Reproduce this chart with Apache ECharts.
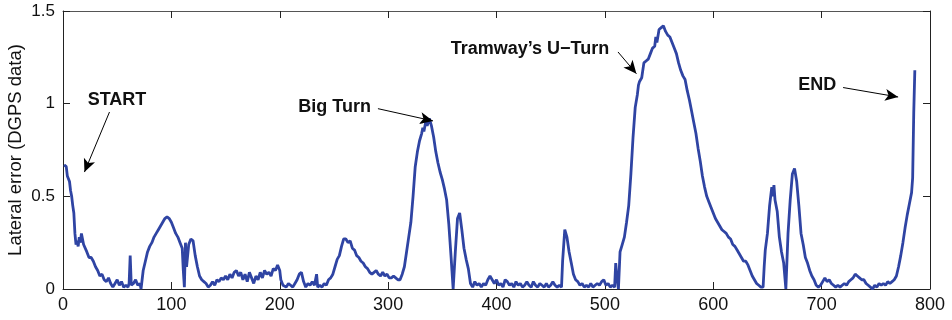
<!DOCTYPE html>
<html>
<head>
<meta charset="utf-8">
<script src="https://cdn.jsdelivr.net/npm/echarts@6/dist/echarts.min.js"></script>
<style>html,body{margin:0;padding:0;background:#fff}#c{width:952px;height:320px}</style>
</head>
<body>
<div id="c"></div>
<script>
const xTicks = [0, 100, 200, 300, 400, 500, 600, 700, 800];
const yTicks = [0, 0.5, 1, 1.5];
const yName = 'Lateral error (DGPS data)';

const sampleX = [1,2,3,4,5,6,7,8,9,10,11,12,13,14,15,16,17,18,19,20,22,24,26,28,30,32,34,36,38,40,42,44,46,48,50,52,54,56,58,60,61,62,63,65,67,69,71,72,74,76,78,80,82,84,86,88,90,92,94,96,98,100,102,104,106,108,110,111,112,113,114,116,118,120,122,124,126,128,130,132,134,136,138,140,142,144,146,148,150,152,154,156,158,160,162,164,166,168,170,172,174,176,178,180,182,184,186,188,190,192,194,196,198,200,201,203,206,208,210,212,214,216,218,220,222,224,226,228,230,232,234,235,237,239,241,243,245,247,249,251,253,255,257,259,261,263,265,267,269,271,273,275,277,279,281,283,285,287,289,291,293,295,297,299,301,303,305,307,309,311,313,315,317,319,321,323,325,327,329,331,332,333,335,336,338,340,342,344,346,348,350,352,354,356,358,360,362,364,366,368,370,372,374,376,378,380,382,384,386,388,390,392,394,396,398,400,402,404,406,408,410,412,414,416,418,420,422,424,426,428,430,432,434,436,438,440,442,444,446,448,450,452,454,456,458,460,461,463,465,467,469,471,473,475,477,479,481,483,485,487,489,491,493,495,497,499,501,503,505,507,509,510,511,512.5,514,516,518,520,522,524,526,528,530,531,532,534,536,538,540,542,544,546,547,548,550,552,554,556,558,560,562,564,566,568,570,572,574,576,578,580,582,584,586,588,590,592,594,596,598,600,602,604,606,608,610,612,614,616,618,620,622,624,626,628,630,632,634,636,638,640,642,644,646,647,648,650,652,654,655,656,657,659,661,663,665,667,669,671,673,675,677,679,681,683,685,687,689,691,693,695,697,699,701,703,705,707,709,711,713,715,717,719,721,723,725,727,729,731,733,735,737,739,741,743,745,747,749,751,753,755,757,759,761,763,765,767,769,771,773,775,777,779,781,783,784,785,786];
const lateralError = [0.67,0.67,0.66,0.61,0.60,0.58,0.53,0.50,0.45,0.41,0.30,0.24,0.26,0.23,0.28,0.25,0.30,0.27,0.24,0.25,0.20,0.17,0.17,0.15,0.12,0.10,0.07,0.08,0.05,0.04,0.06,0.03,0.01,0.03,0.05,0.02,0.04,0.01,0.02,0.01,0.03,0.18,0.02,0.03,0.05,0.02,0.03,0.0,0.10,0.15,0.20,0.23,0.25,0.28,0.30,0.32,0.34,0.36,0.38,0.39,0.38,0.36,0.33,0.30,0.28,0.25,0.22,0.10,0.01,0.25,0.12,0.24,0.27,0.26,0.18,0.12,0.07,0.05,0.04,0.03,0.01,0.02,0.04,0.02,0.05,0.04,0.06,0.05,0.07,0.05,0.08,0.06,0.09,0.10,0.07,0.09,0.05,0.08,0.04,0.09,0.06,0.03,0.07,0.05,0.09,0.06,0.10,0.08,0.09,0.07,0.11,0.10,0.13,0.10,0.05,0.02,0.01,0.03,0.02,0.01,0.03,0.05,0.08,0.09,0.04,0.01,0.03,0.02,0.04,0.02,0.08,0.01,0.02,0.01,0.03,0.02,0.05,0.06,0.08,0.12,0.16,0.18,0.23,0.27,0.27,0.25,0.26,0.22,0.21,0.18,0.17,0.15,0.14,0.12,0.11,0.09,0.08,0.09,0.10,0.08,0.07,0.09,0.07,0.08,0.06,0.06,0.07,0.06,0.05,0.05,0.08,0.12,0.20,0.28,0.36,0.50,0.66,0.74,0.80,0.84,0.87,0.85,0.91,0.88,0.92,0.88,0.82,0.74,0.68,0.63,0.59,0.54,0.48,0.35,0.18,0.0,0.20,0.38,0.41,0.32,0.22,0.16,0.11,0.03,0.01,0.04,0.02,0.03,0.01,0.03,0.02,0.05,0.07,0.05,0.03,0.05,0.02,0.03,0.01,0.05,0.04,0.02,0.03,0.01,0.04,0.02,0.03,0.01,0.02,0.04,0.02,0.01,0.04,0.02,0.01,0.03,0.02,0.01,0.03,0.01,0.02,0.04,0.02,0.01,0.02,0.01,0.15,0.32,0.28,0.20,0.14,0.08,0.05,0.04,0.02,0.03,0.01,0.02,0.01,0.03,0.01,0.02,0.03,0.02,0.04,0.05,0.02,0.03,0.01,0.02,0.01,0.14,0.07,0.0,0.20,0.24,0.28,0.36,0.45,0.62,0.82,0.98,1.05,1.10,1.12,1.14,1.22,1.23,1.24,1.27,1.30,1.31,1.36,1.33,1.40,1.41,1.42,1.39,1.37,1.36,1.33,1.30,1.27,1.22,1.18,1.15,1.13,1.07,1.02,0.96,0.90,0.84,0.76,0.69,0.61,0.55,0.50,0.47,0.44,0.41,0.38,0.36,0.34,0.32,0.31,0.30,0.28,0.27,0.24,0.23,0.21,0.19,0.17,0.15,0.15,0.13,0.10,0.07,0.05,0.03,0.02,0.01,0.01,0.12,0.21,0.30,0.45,0.55,0.50,0.56,0.48,0.42,0.28,0.20,0.14,0.0,0.30,0.48,0.62,0.65,0.58,0.45,0.30,0.24,0.17,0.14,0.10,0.07,0.05,0.02,0.01,0.02,0.04,0.06,0.04,0.05,0.03,0.02,0.01,0.02,0.01,0.02,0.03,0.02,0.04,0.05,0.06,0.08,0.07,0.06,0.05,0.05,0.03,0.02,0.01,0.0,0.02,0.01,0.03,0.02,0.03,0.02,0.04,0.03,0.04,0.05,0.07,0.12,0.18,0.25,0.33,0.40,0.46,0.52,0.60,0.95,1.18];

const annoText = ['START', 'Big Turn', 'Tramway\u2019s U\u2212Turn', 'END'];
const annoTextPos = [[49.8, 1.018], [250.6, 0.982], [430.9, 1.297], [696, 1.099]];
const arrowFrom = [[42.9, 0.955], [290.6, 0.973], [512.1, 1.279], [719.8, 1.087]];
const arrowTo = [[19.8, 0.631], [341.4, 0.907], [529.1, 1.162], [770.6, 1.036]];

const FONT = '"Liberation Sans", Arial, Helvetica, sans-serif';
const chart = echarts.init(document.getElementById('c'), null, {renderer: 'canvas'});

const lineData = sampleX.map((x, i) => [x, lateralError[i]]);
const axisLineStyle = {color: '#222', width: 1};

const baseX = {
  type: 'value', min: xTicks[0], max: xTicks[xTicks.length - 1], interval: 100,
  splitLine: {show: false},
  axisLine: {show: true, onZero: false, lineStyle: axisLineStyle},
  axisTick: {show: true, inside: true, length: 7, lineStyle: {color: '#222'}}
};
const baseY = {
  type: 'value', min: yTicks[0], max: yTicks[yTicks.length - 1], interval: 0.5,
  splitLine: {show: false},
  axisLine: {show: true, onZero: false, lineStyle: axisLineStyle},
  axisTick: {show: true, inside: true, length: 7, lineStyle: {color: '#222'}}
};

chart.setOption({
  animation: false,
  backgroundColor: '#fff',
  grid: {left: 63, right: 22, top: 11, bottom: 31, containLabel: false, outerBoundsMode: 'none'},
  xAxis: [
    Object.assign({}, baseX, {position: 'bottom',
      axisLabel: {show: true, color: '#111', fontSize: 18, fontFamily: FONT, margin: 7}}),
    Object.assign({}, baseX, {position: 'top', axisLine: {show: true, onZero: false, lineStyle: {color: '#555', width: 1}}, axisLabel: {show: false}})
  ],
  yAxis: [
    Object.assign({}, baseY, {position: 'left',
      name: yName, nameLocation: 'middle', nameGap: 47, nameMoveOverlap: false,
      nameTextStyle: {color: '#111', fontSize: 18.5, fontFamily: FONT, verticalAlign: 'middle'},
      axisLabel: {show: true, color: '#111', fontSize: 17, fontFamily: FONT, margin: 8,
        formatter: v => String(v)}}),
    Object.assign({}, baseY, {position: 'right', axisLabel: {show: false}})
  ],
  series: [
    {
      type: 'line', xAxisIndex: 0, yAxisIndex: 0,
      data: lineData, showSymbol: false, symbol: 'none',
      lineStyle: {color: '#2f44a3', width: 2.8},
      z: 3
    },
    {
      type: 'line', xAxisIndex: 0, yAxisIndex: 0, data: [], silent: true,
      markLine: {
        silent: true, animation: false,
        symbol: ['none', 'arrow'], symbolSize: [9, 13],
        lineStyle: {color: '#000', width: 1, type: 'solid'},
        label: {show: false},
        data: arrowFrom.map((f, i) => [{coord: f}, {coord: arrowTo[i]}])
      },
      markPoint: {
        silent: true, animation: false,
        symbol: 'circle', symbolSize: 0,
        label: {show: true, position: 'inside', color: '#111', fontSize: 18, fontWeight: 'bold', fontFamily: FONT,
          formatter: p => p.name},
        data: annoText.map((t, i) => ({name: t, coord: annoTextPos[i]}))
      }
    }
  ]
});
</script>
</body>
</html>
